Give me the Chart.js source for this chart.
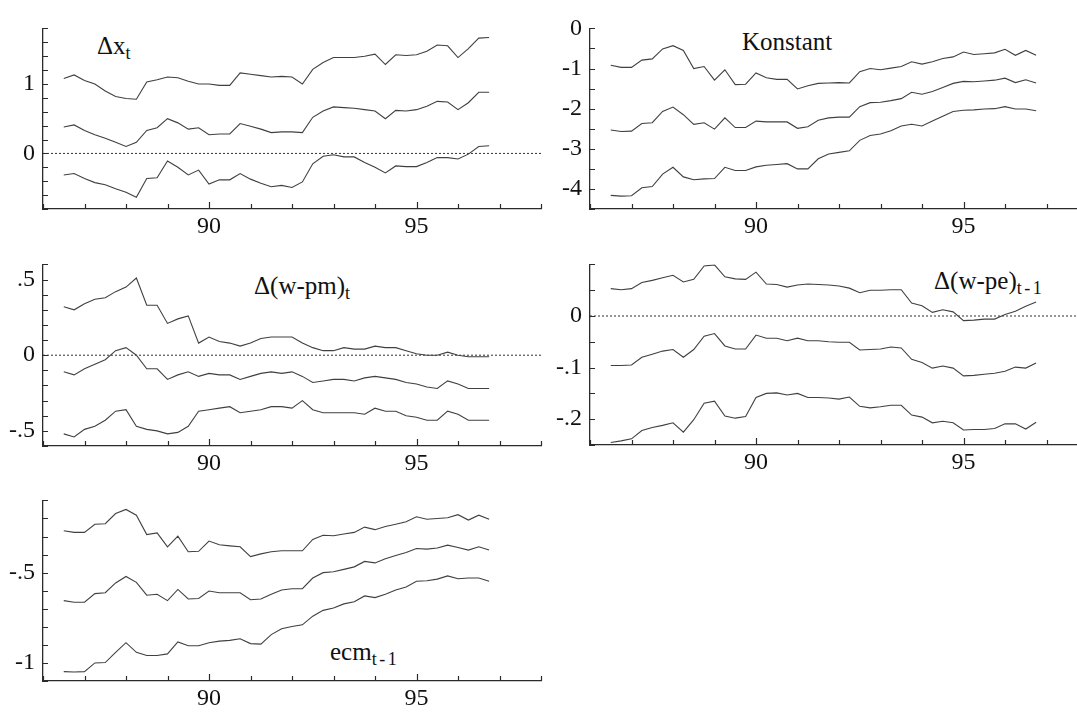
<!DOCTYPE html>
<html>
<head>
<meta charset="utf-8">
<script src="https://cdn.jsdelivr.net/npm/chart.js@4.4.1/dist/chart.umd.min.js"></script>
<style>
    html, body { margin: 0; padding: 0; background: #fff; overflow: hidden; width: 1077px; height: 713px; }
    .panel { position: absolute; }
    .title { position: absolute; font-family: "Liberation Serif", serif; font-size: 25px; color: #111; white-space: nowrap; line-height: 1; }
    .title sub { font-size: 18px; vertical-align: baseline; position: relative; top: 5px; }
    .title sub.wide { letter-spacing: 2.5px; }
</style>
</head>
<body>

<div class="title" style="left:97px; top:33px;">&Delta;x<sub>t</sub></div>
<div class="title" style="left:742px; top:29px;">Konstant</div>
<div class="title" style="left:254px; top:273px;">&Delta;(w-pm)<sub>t</sub></div>
<div class="title" style="left:934px; top:268px;">&Delta;(w-pe)<sub class="wide">t-1</sub></div>
<div class="title" style="left:330px; top:639px;">ecm<sub class="wide">t-1</sub></div>

<script>
// ======================================================
// REKURSIVE KOEFFIZIENTEN +/- 2 SE
// ======================================================

// x: Quartale 1986:3 - 1996:4
const quarters = [86.5, 86.75, 87, 87.25, 87.5, 87.75, 88, 88.25, 88.5, 88.75,
    89, 89.25, 89.5, 89.75, 90, 90.25, 90.5, 90.75, 91, 91.25,
    91.5, 91.75, 92, 92.25, 92.5, 92.75, 93, 93.25, 93.5, 93.75,
    94, 94.25, 94.5, 94.75, 95, 95.25, 95.5, 95.75, 96, 96.25,
    96.5, 96.75];
const xLabels = [90, 95];

// Δx_t
const dxUpper = [1.08, 1.13, 1.05, 1.00, 0.90, 0.82, 0.79, 0.78, 1.03, 1.06, 1.10, 1.09, 1.04, 1.00, 1.00, 0.98, 0.98, 1.16, 1.14, 1.12, 1.10, 1.11, 1.10, 1.00, 1.21, 1.31, 1.38, 1.38, 1.38, 1.40, 1.43, 1.28, 1.42, 1.41, 1.42, 1.47, 1.56, 1.55, 1.38, 1.51, 1.66, 1.67];
const dxMid = [0.38, 0.41, 0.33, 0.27, 0.22, 0.16, 0.10, 0.16, 0.33, 0.37, 0.50, 0.44, 0.35, 0.37, 0.27, 0.28, 0.28, 0.43, 0.39, 0.35, 0.30, 0.31, 0.31, 0.30, 0.52, 0.61, 0.67, 0.66, 0.65, 0.63, 0.61, 0.50, 0.62, 0.61, 0.63, 0.68, 0.75, 0.74, 0.63, 0.73, 0.88, 0.88];
const dxLower = [-0.31, -0.29, -0.36, -0.42, -0.45, -0.51, -0.56, -0.63, -0.36, -0.35, -0.11, -0.20, -0.31, -0.24, -0.44, -0.38, -0.38, -0.29, -0.37, -0.43, -0.48, -0.46, -0.49, -0.41, -0.15, -0.04, -0.02, -0.05, -0.05, -0.13, -0.20, -0.28, -0.18, -0.19, -0.19, -0.13, -0.06, -0.06, -0.08, -0.01, 0.10, 0.11];
const dxTicks = [0, 1];

// Konstant
const kUpper = [-0.92, -0.97, -0.97, -0.79, -0.76, -0.51, -0.43, -0.55, -1.00, -0.95, -1.29, -1.03, -1.40, -1.39, -1.11, -1.23, -1.27, -1.27, -1.51, -1.43, -1.37, -1.36, -1.35, -1.36, -1.08, -1.00, -1.03, -0.99, -0.95, -0.83, -0.89, -0.83, -0.75, -0.71, -0.59, -0.65, -0.63, -0.61, -0.52, -0.67, -0.55, -0.67];
const kMid = [-2.53, -2.57, -2.56, -2.37, -2.35, -2.07, -1.96, -2.15, -2.39, -2.35, -2.51, -2.23, -2.47, -2.47, -2.31, -2.33, -2.33, -2.33, -2.49, -2.45, -2.29, -2.23, -2.21, -2.21, -1.95, -1.85, -1.84, -1.80, -1.75, -1.59, -1.64, -1.57, -1.47, -1.37, -1.32, -1.33, -1.31, -1.29, -1.24, -1.35, -1.28, -1.36];
const kLower = [-4.16, -4.18, -4.17, -3.97, -3.94, -3.63, -3.46, -3.70, -3.77, -3.75, -3.74, -3.46, -3.54, -3.54, -3.45, -3.41, -3.39, -3.37, -3.50, -3.50, -3.25, -3.13, -3.09, -3.05, -2.79, -2.67, -2.63, -2.55, -2.43, -2.39, -2.43, -2.31, -2.19, -2.07, -2.04, -2.03, -2.01, -2.00, -1.95, -2.01, -2.01, -2.05];
const kTicks = [0, -1, -2, -3, -4];

// Δ(w-pm)_t
const wpmUpper = [0.32, 0.30, 0.34, 0.37, 0.38, 0.42, 0.45, 0.51, 0.33, 0.33, 0.21, 0.24, 0.26, 0.08, 0.12, 0.09, 0.08, 0.06, 0.08, 0.11, 0.12, 0.12, 0.12, 0.08, 0.05, 0.03, 0.03, 0.05, 0.04, 0.04, 0.06, 0.05, 0.05, 0.03, 0.01, 0.00, 0.00, 0.02, 0.00, -0.01, -0.01, -0.01];
const wpmMid = [-0.11, -0.13, -0.09, -0.06, -0.03, 0.03, 0.05, 0.00, -0.09, -0.09, -0.16, -0.13, -0.11, -0.14, -0.12, -0.13, -0.13, -0.16, -0.14, -0.12, -0.11, -0.12, -0.11, -0.14, -0.18, -0.17, -0.16, -0.16, -0.17, -0.15, -0.14, -0.15, -0.16, -0.18, -0.19, -0.21, -0.22, -0.17, -0.19, -0.22, -0.22, -0.22];
const wpmLower = [-0.52, -0.54, -0.49, -0.47, -0.43, -0.37, -0.36, -0.47, -0.49, -0.50, -0.52, -0.51, -0.47, -0.37, -0.36, -0.35, -0.34, -0.38, -0.37, -0.36, -0.34, -0.34, -0.35, -0.30, -0.36, -0.38, -0.38, -0.38, -0.38, -0.39, -0.35, -0.37, -0.37, -0.40, -0.41, -0.43, -0.43, -0.37, -0.39, -0.43, -0.43, -0.43];
const wpmTicks = [0.5, 0, -0.5];

// Δ(w-pe)_t-1
const wpeUpper = [0.053, 0.051, 0.053, 0.065, 0.069, 0.074, 0.079, 0.066, 0.071, 0.097, 0.099, 0.076, 0.072, 0.071, 0.085, 0.062, 0.061, 0.056, 0.060, 0.062, 0.061, 0.060, 0.058, 0.054, 0.045, 0.050, 0.050, 0.051, 0.051, 0.025, 0.020, 0.007, 0.012, 0.008, -0.009, -0.008, -0.006, -0.006, 0.003, 0.009, 0.019, 0.027];
const wpeMid = [-0.096, -0.096, -0.095, -0.080, -0.074, -0.068, -0.065, -0.080, -0.065, -0.039, -0.034, -0.058, -0.064, -0.064, -0.037, -0.043, -0.043, -0.048, -0.043, -0.048, -0.048, -0.050, -0.051, -0.051, -0.066, -0.065, -0.064, -0.060, -0.062, -0.084, -0.090, -0.101, -0.097, -0.101, -0.116, -0.115, -0.113, -0.111, -0.107, -0.099, -0.101, -0.091];
const wpeLower = [-0.245, -0.242, -0.238, -0.222, -0.216, -0.212, -0.207, -0.225, -0.201, -0.169, -0.165, -0.194, -0.198, -0.195, -0.158, -0.150, -0.149, -0.153, -0.150, -0.158, -0.158, -0.159, -0.161, -0.157, -0.175, -0.178, -0.176, -0.173, -0.173, -0.192, -0.196, -0.207, -0.204, -0.207, -0.221, -0.220, -0.220, -0.218, -0.209, -0.209, -0.219, -0.206];
const wpeTicks = [0, -0.1, -0.2];

// ecm_t-1
const ecmUpper = [-0.268, -0.277, -0.277, -0.232, -0.229, -0.173, -0.150, -0.182, -0.289, -0.280, -0.357, -0.298, -0.384, -0.382, -0.325, -0.346, -0.352, -0.357, -0.411, -0.396, -0.384, -0.379, -0.379, -0.379, -0.316, -0.293, -0.296, -0.286, -0.277, -0.248, -0.262, -0.245, -0.232, -0.218, -0.191, -0.204, -0.200, -0.196, -0.179, -0.209, -0.182, -0.204];
const ecmMid = [-0.655, -0.664, -0.664, -0.616, -0.611, -0.557, -0.521, -0.554, -0.625, -0.620, -0.655, -0.593, -0.646, -0.643, -0.602, -0.611, -0.611, -0.611, -0.650, -0.646, -0.620, -0.596, -0.589, -0.589, -0.530, -0.500, -0.495, -0.482, -0.468, -0.438, -0.446, -0.423, -0.405, -0.388, -0.366, -0.370, -0.364, -0.348, -0.361, -0.375, -0.357, -0.375];
const ecmLower = [-1.048, -1.050, -1.048, -1.000, -0.998, -0.941, -0.888, -0.941, -0.959, -0.959, -0.950, -0.884, -0.905, -0.905, -0.888, -0.879, -0.875, -0.866, -0.893, -0.896, -0.843, -0.811, -0.798, -0.789, -0.741, -0.709, -0.696, -0.673, -0.661, -0.629, -0.638, -0.620, -0.596, -0.579, -0.548, -0.545, -0.536, -0.518, -0.534, -0.530, -0.530, -0.548];
const ecmTicks = [-0.5, -1];

// ------------------------------------------------------

const INK = "#2b2b2b";
const YW = 44;   // Breite der y-Achse
const XH = 36;   // Höhe der x-Achse
const PT = 16;
const PR = 4;

function fmt(v) {
    if (Math.abs(v) < 1e-9) return "0";
    let s = String(Math.round(v * 100) / 100);
    return s.replace("0.", ".");
}

function hasLabel(list, v) {
    return list.some(t => Math.abs(t - v) < 1e-6);
}

// kleine Ticks nach innen (an jeder Schrittweite der Achse)
const innerTicks = {
    id: "innerTicks",
    afterDraw(chart) {
        const { ctx, chartArea, scales } = chart;
        ctx.save();
        ctx.strokeStyle = INK;
        ctx.lineWidth = 1.2;
        ctx.beginPath();
        ["x", "y"].forEach(id => {
            const sc = scales[id];
            const o = sc.options;
            const step = o.ticks.stepSize;
            const n = Math.round((o.max - o.min) / step);
            for (let k = 0; k <= n; k++) {
                const v = o.min + k * step;
                if (id === "x") {
                    const px = Math.round(sc.getPixelForValue(v)) + 0.5;
                    const len = hasLabel(xLabels, v) ? 7 : 5;
                    ctx.moveTo(px, chartArea.bottom);
                    ctx.lineTo(px, chartArea.bottom - len);
                } else {
                    const py = Math.round(sc.getPixelForValue(v)) + 0.5;
                    ctx.moveTo(chartArea.left, py);
                    ctx.lineTo(chartArea.left + 5, py);
                }
            }
        });
        ctx.stroke();
        ctx.restore();
    }
};

function series(values) {
    return {
        data: quarters.map((q, i) => ({ x: q, y: values[i] })),
        borderColor: "#404040",
        borderWidth: 1.1,
        pointRadius: 0,
        tension: 0,
        fill: false
    };
}

function zeroLine() {
    return {
        data: [{ x: 86, y: 0 }, { x: 98, y: 0 }],
        borderColor: "#333",
        borderWidth: 1,
        borderDash: [2, 2],
        pointRadius: 0
    };
}

function makePanel(area, yMin, yMax, step, yLabels, bands, withZero) {
    const wrap = document.createElement("div");
    wrap.className = "panel";
    wrap.style.left = (area.l - YW) + "px";
    wrap.style.top = (area.t - PT) + "px";
    wrap.style.width = (area.r - area.l + YW + PR) + "px";
    wrap.style.height = (area.b - area.t + PT + XH) + "px";
    const canvas = document.createElement("canvas");
    wrap.appendChild(canvas);
    document.body.appendChild(wrap);

    const datasets = bands.map(series);
    if (withZero) datasets.push(zeroLine());

    const font = { family: "Liberation Serif", size: 24 };

    new Chart(canvas, {
        type: "line",
        data: { datasets },
        plugins: [innerTicks],
        options: {
            responsive: true,
            maintainAspectRatio: false,
            animation: false,
            layout: { padding: { top: PT, right: PR, left: 0, bottom: 0 } },
            plugins: { legend: { display: false }, tooltip: { enabled: false } },
            scales: {
                x: {
                    type: "linear",
                    min: 86,
                    max: 98,
                    afterFit: s => { s.height = XH; },
                    ticks: {
                        stepSize: 1,
                        color: "#111",
                        font,
                        padding: 3,
                        maxRotation: 0,
                        autoSkip: false,
                        callback: v => hasLabel(xLabels, v) ? String(v) : null
                    },
                    grid: { drawOnChartArea: false, drawTicks: false },
                    border: { display: true, color: INK, width: 1.3 }
                },
                y: {
                    type: "linear",
                    min: yMin,
                    max: yMax,
                    afterFit: s => { s.width = YW; },
                    ticks: {
                        stepSize: step,
                        color: "#111",
                        font,
                        padding: 8,
                        autoSkip: false,
                        callback: v => hasLabel(yLabels, v) ? fmt(v) : null
                    },
                    grid: { drawOnChartArea: false, drawTicks: false },
                    border: { display: true, color: INK, width: 1.3 }
                }
            }
        }
    });
}

makePanel({ l: 43, t: 22, r: 541, b: 209 }, -0.8, 1.8, 0.2, dxTicks, [dxUpper, dxMid, dxLower], true);
makePanel({ l: 590, t: 22, r: 1088, b: 209 }, -4.5, 0, 0.5, kTicks, [kUpper, kMid, kLower], false);
makePanel({ l: 43, t: 258, r: 541, b: 446 }, -0.6, 0.6, 0.1, wpmTicks, [wpmUpper, wpmMid, wpmLower], true);
makePanel({ l: 590, t: 258, r: 1088, b: 445 }, -0.25, 0.1, 0.05, wpeTicks, [wpeUpper, wpeMid, wpeLower], true);
makePanel({ l: 43, t: 494, r: 541, b: 681 }, -1.1, -0.1, 0.1, ecmTicks, [ecmUpper, ecmMid, ecmLower], false);
</script>
</body>
</html>
